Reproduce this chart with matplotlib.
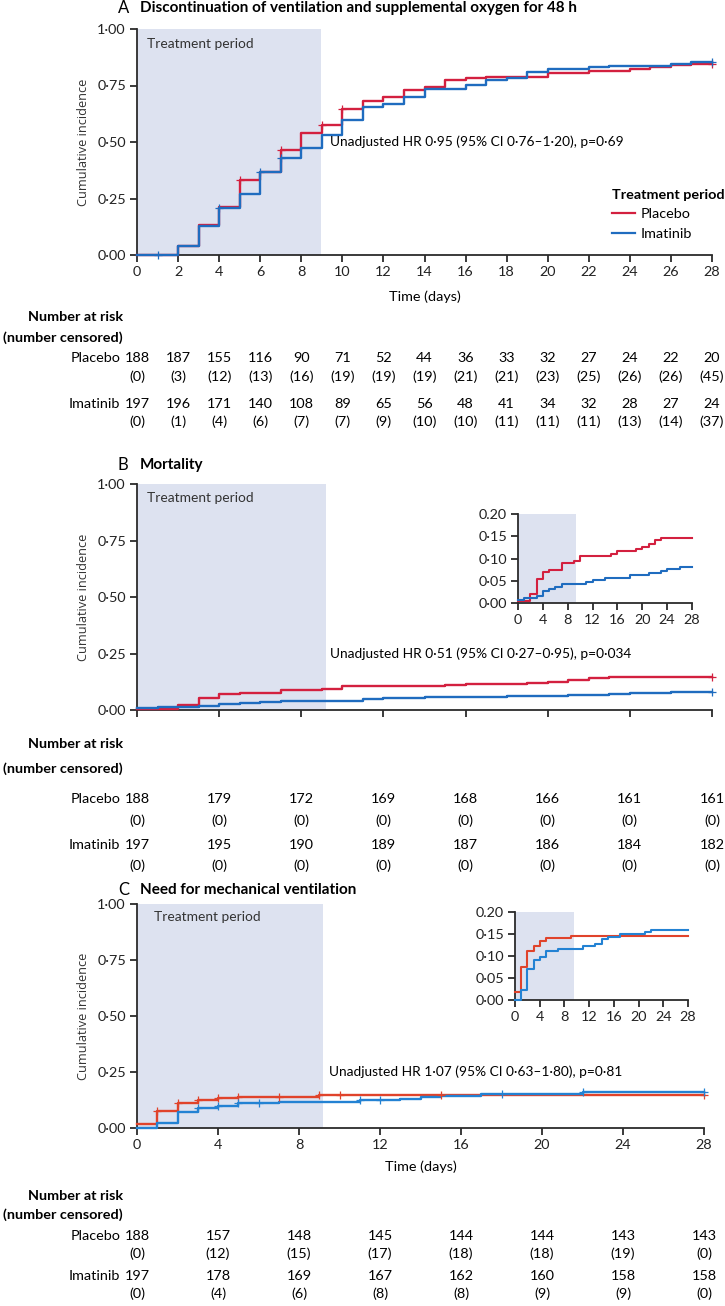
import numpy as np
import matplotlib
matplotlib.use("Agg")
import matplotlib.pyplot as plt
from matplotlib.transforms import blended_transform_factory

plt.rcParams['font.family'] = ['Lato', 'DejaVu Sans']

# ---------------- data ----------------
# Panel A: discontinuation of ventilation and supplemental oxygen
a_pl_t = [0, 2, 3, 4, 5, 6, 7, 8, 9, 10, 11, 12, 13, 14, 15, 16, 17, 20, 22, 24, 25, 26, 27]
a_pl_v = [0, 0.041, 0.134, 0.212, 0.333, 0.367, 0.466, 0.54, 0.576, 0.648, 0.681, 0.698, 0.731, 0.743, 0.774, 0.781, 0.787, 0.807, 0.814, 0.824, 0.832, 0.839, 0.847]
a_im_t = [0, 2, 3, 4, 5, 6, 7, 8, 9, 10, 11, 12, 13, 14, 16, 17, 18, 19, 20, 22, 23, 26, 27]
a_im_v = [0, 0.041, 0.128, 0.21, 0.271, 0.366, 0.431, 0.473, 0.531, 0.596, 0.655, 0.67, 0.698, 0.733, 0.752, 0.776, 0.784, 0.808, 0.822, 0.832, 0.838, 0.846, 0.855]
a_pl_cens = [5, 7, 9, 10, 28]
a_im_cens = [1, 4, 6, 7, 28]

# Panel B: mortality
b_pl_t = [0, 2, 3, 4, 5, 7, 9, 10, 15, 16, 19, 20, 21, 22, 23]
b_pl_v = [0.005, 0.021, 0.053, 0.069, 0.074, 0.089, 0.095, 0.105, 0.111, 0.116, 0.121, 0.126, 0.132, 0.141, 0.146]
b_im_t = [0, 1, 3, 4, 5, 6, 7, 11, 12, 14, 18, 21, 23, 24, 26]
b_im_v = [0.007, 0.012, 0.016, 0.026, 0.031, 0.037, 0.042, 0.047, 0.052, 0.057, 0.062, 0.067, 0.072, 0.077, 0.081]
b_pl_cens = [28]
b_im_cens = [28]

# Panel C: need for mechanical ventilation
c_pl_t = [0, 1, 2, 3, 4, 5, 9]
c_pl_v = [0.018, 0.074, 0.112, 0.123, 0.134, 0.14, 0.146]
c_im_t = [0, 1, 2, 3, 4, 5, 7, 11, 13, 14, 15, 17, 21, 22]
c_im_v = [0.0, 0.022, 0.07, 0.091, 0.097, 0.112, 0.117, 0.123, 0.128, 0.139, 0.144, 0.15, 0.154, 0.16]
c_pl_cens = [1, 2, 3, 4, 5, 7, 9, 10, 15, 28]
c_im_cens = [3, 4, 5, 6, 11, 12, 18, 22, 28]

# Number at risk tables
a_days = list(range(0, 29, 2))
a_pl_risk = [188, 187, 155, 116, 90, 71, 52, 44, 36, 33, 32, 27, 24, 22, 20]
a_pl_cn = [0, 3, 12, 13, 16, 19, 19, 19, 21, 21, 23, 25, 26, 26, 45]
a_im_risk = [197, 196, 171, 140, 108, 89, 65, 56, 48, 41, 34, 32, 28, 27, 24]
a_im_cn = [0, 1, 4, 6, 7, 7, 9, 10, 10, 11, 11, 11, 13, 14, 37]

bc_days = list(range(0, 29, 4))
b_pl_risk = [188, 179, 172, 169, 168, 166, 161, 161]
b_pl_cn = [0, 0, 0, 0, 0, 0, 0, 0]
b_im_risk = [197, 195, 190, 189, 187, 186, 184, 182]
b_im_cn = [0, 0, 0, 0, 0, 0, 0, 0]

c_pl_risk = [188, 157, 148, 145, 144, 144, 143, 143]
c_pl_cn = [0, 12, 15, 17, 18, 18, 19, 0]
c_im_risk = [197, 178, 169, 167, 162, 160, 158, 158]
c_im_cn = [0, 4, 6, 8, 8, 9, 9, 0]

main_yticks = [0, 0.25, 0.5, 0.75, 1.0]
main_ylabels = ['0·00', '0·25', '0·50', '0·75', '1·00']
inset_yticks = [0, 0.05, 0.10, 0.15, 0.20]
inset_ylabels = ['0·00', '0·05', '0·10', '0·15', '0.20']

# ---------------- style ----------------
W, H = 725, 1306
RED_AB = '#d3203f'
RED_C = '#e0432b'
BLUE = '#1f6cbf'
BLUE_C = '#2382d3'
SHADE = '#dde2f0'
AX_COL = '#2b2b2b'
FS = 10.4      # ticks / table
FS_T = 9.9     # annotations

fig = plt.figure(figsize=(W / 100, H / 100), dpi=100)


def fx(x):
    return x / W


def fy(y):
    return 1 - y / H


def add_ax(l, r, t, b):
    return fig.add_axes([fx(l), fy(b), fx(r) - fx(l), fy(t) - fy(b)])


def style(ax, xmax=28):
    for s in ['top', 'right']:
        ax.spines[s].set_visible(False)
    for s in ['left', 'bottom']:
        ax.spines[s].set_color(AX_COL)
        ax.spines[s].set_linewidth(1.3)
    ax.tick_params(direction='out', length=5, width=1.3, color=AX_COL,
                   labelsize=FS, labelcolor='#222222', pad=3)
    ax.set_xlim(0, xmax)
    ax.patch.set_alpha(0)


def step_curve(ax, t, v, color, lw=1.7, z=3):
    tt = list(t) + [28]
    vv = list(v) + [v[-1]]
    ax.step(tt, vv, where='post', color=color, lw=lw, zorder=z, clip_on=False)


def cens(ax, t, v, ct, color, ms=6):
    t = np.asarray(t)
    v = np.asarray(v)
    idx = np.searchsorted(t, ct, side='right') - 1
    ax.plot(ct, v[idx], '+', color=color, ms=ms, mew=0.9, zorder=4, clip_on=False)


def table(ax, days, rows, y_rows, y_head):
    tr = blended_transform_factory(ax.transData, fig.transFigure)
    fig.text(fx(123), fy(y_head[0]), 'Number at risk', ha='right', va='center',
             fontsize=FS, fontweight='bold')
    fig.text(fx(123), fy(y_head[1]), '(number censored)', ha='right', va='center',
             fontsize=FS, fontweight='bold')
    for (name, risk, cn), (yr, yc) in zip(rows, y_rows):
        fig.text(fx(120), fy(yr), name, ha='right', va='center', fontsize=FS)
        for d, r, c in zip(days, risk, cn):
            ax.text(d, fy(yr), str(r), transform=tr, ha='center', va='center', fontsize=FS)
            ax.text(d, fy(yc), f'({c})', transform=tr, ha='center', va='center', fontsize=FS)


def title(y, letter, text):
    fig.text(fx(118), fy(y), letter, ha='left', va='center', fontsize=12)
    fig.text(fx(140), fy(y), text, ha='left', va='center', fontsize=11, fontweight='bold')


def ylab(ax):
    ax.set_ylabel('Cumulative incidence', fontsize=9.2, family=['Open Sans', 'DejaVu Sans'],
                  color='#333333', labelpad=5)


# ---------------- Panel A ----------------
title(8, 'A', 'Discontinuation of ventilation and supplemental oxygen for 48 h')
axA = add_ax(137, 712, 29, 255)
style(axA)
axA.set_ylim(0, 1)
axA.axvspan(0, 8.95, color=SHADE, zorder=0, lw=0)
step_curve(axA, a_pl_t, a_pl_v, RED_AB)
step_curve(axA, a_im_t, a_im_v, BLUE)
cens(axA, a_pl_t, a_pl_v, a_pl_cens, RED_AB)
cens(axA, a_im_t, a_im_v, a_im_cens, BLUE)
axA.set_xticks(range(0, 29, 2))
axA.set_yticks(main_yticks)
axA.set_yticklabels(main_ylabels)
axA.set_xlabel('Time (days)', fontsize=FS, labelpad=9)
ylab(axA)
axA.text(0.5, 0.935, 'Treatment period', ha='left', va='center',
         fontsize=FS_T, color='#333333')
axA.text(9.4, 0.50, 'Unadjusted HR 0·95 (95% CI 0·76–1·20), p=0·69', ha='left',
         va='center', fontsize=FS_T)
hA = [plt.Line2D([], [], color=RED_AB, lw=1.6), plt.Line2D([], [], color=BLUE, lw=1.6)]
axA.legend(hA, ['Placebo', 'Imatinib'], title='Treatment period', loc='upper left',
           bbox_to_anchor=(fx(612), fy(189)), bbox_transform=fig.transFigure,
           frameon=False, handlelength=1.6, handletextpad=0.4, labelspacing=0.5,
           borderpad=0, borderaxespad=0, alignment='left', fontsize=FS,
           title_fontproperties={'weight': 'bold', 'size': FS})
table(axA, a_days,
      [('Placebo', a_pl_risk, a_pl_cn), ('Imatinib', a_im_risk, a_im_cn)],
      [(358, 377), (404, 422)], (317, 338))

# ---------------- Panel B ----------------
title(465, 'B', 'Mortality')
axB = add_ax(137, 712, 484, 710)
style(axB)
axB.set_ylim(0, 1)
axB.axvspan(0, 9.2, color=SHADE, zorder=0, lw=0)
step_curve(axB, b_pl_t, b_pl_v, RED_AB)
step_curve(axB, b_im_t, b_im_v, BLUE)
cens(axB, b_pl_t, b_pl_v, b_pl_cens, RED_AB)
cens(axB, b_im_t, b_im_v, b_im_cens, BLUE)
axB.set_xticks(bc_days)
axB.set_xticklabels([])
axB.set_yticks(main_yticks)
axB.set_yticklabels(main_ylabels)
ylab(axB)
axB.text(0.5, 0.94, 'Treatment period', ha='left', va='center', fontsize=FS_T, color='#333333')
axB.text(9.4, 0.25, 'Unadjusted HR 0·51 (95% CI 0·27–0·95), p=0·034', ha='left',
         va='center', fontsize=FS_T)

axBi = add_ax(518, 692, 514, 603)
style(axBi)
axBi.set_ylim(0, 0.2)
axBi.axvspan(0, 9.3, color=SHADE, zorder=0, lw=0)
step_curve(axBi, b_pl_t, b_pl_v, RED_AB, lw=1.5)
step_curve(axBi, b_im_t, b_im_v, BLUE, lw=1.5)
axBi.set_xticks(range(0, 29, 4))
axBi.set_yticks(inset_yticks)
axBi.set_yticklabels(inset_ylabels)

table(axB, bc_days,
      [('Placebo', b_pl_risk, b_pl_cn), ('Imatinib', b_im_risk, b_im_cn)],
      [(799, 821), (845, 866)], (744, 769))

# ---------------- Panel C ----------------
title(890, 'C', 'Need for mechanical ventilation')
axC = add_ax(137, 704, 904, 1128)
style(axC)
axC.set_ylim(0, 1)
axC.axvspan(0, 9.2, color=SHADE, zorder=0, lw=0)
step_curve(axC, c_pl_t, c_pl_v, RED_C)
step_curve(axC, c_im_t, c_im_v, BLUE_C)
cens(axC, c_pl_t, c_pl_v, c_pl_cens, RED_C)
cens(axC, c_im_t, c_im_v, c_im_cens, BLUE_C)
axC.set_xticks(bc_days)
axC.set_yticks(main_yticks)
axC.set_yticklabels(main_ylabels)
axC.set_xlabel('Time (days)', fontsize=FS, labelpad=7)
ylab(axC)
axC.text(0.85, 0.94, 'Treatment period', ha='left', va='center', fontsize=FS_T, color='#333333')
axC.text(9.5, 0.25, 'Unadjusted HR 1·07 (95% CI 0·63–1·80), p=0·81', ha='left',
         va='center', fontsize=FS_T)

axCi = add_ax(515, 688, 912, 1000)
style(axCi)
axCi.set_ylim(0, 0.2)
axCi.axvspan(0, 9.5, color=SHADE, zorder=0, lw=0)
step_curve(axCi, c_pl_t, c_pl_v, RED_C, lw=1.5)
step_curve(axCi, c_im_t, c_im_v, BLUE_C, lw=1.5)
axCi.set_xticks(range(0, 29, 4))
axCi.set_yticks(inset_yticks)
axCi.set_yticklabels(inset_ylabels)

table(axC, bc_days,
      [('Placebo', c_pl_risk, c_pl_cn), ('Imatinib', c_im_risk, c_im_cn)],
      [(1236, 1254), (1276, 1294)], (1196, 1215))

fig.savefig('out.png', dpi=100)
